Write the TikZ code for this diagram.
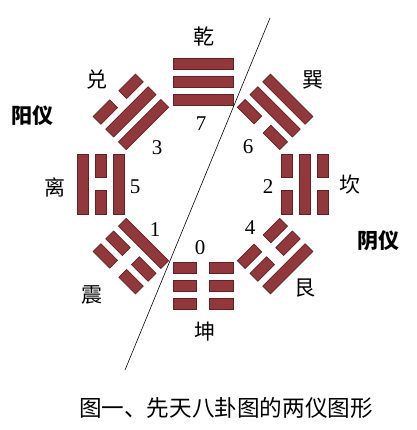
\documentclass[tikz,border=0pt]{standalone}
\usepackage{fontspec}
\setmainfont{Liberation Serif}
\newfontfamily\cjk{Noto Sans CJK SC}
\definecolor{barc}{RGB}{146,56,58}
\definecolor{barb}{RGB}{100,32,34}
\tikzset{
  yao/.style={fill=barc, draw=barb, line width=0.7pt},
  gualabel/.style={font=\cjk\fontsize{21}{21}\selectfont, inner sep=0pt},
  numlabel/.style={font=\fontsize{21}{21}\selectfont, inner sep=0pt},
  yilabel/.style={font=\cjk\bfseries\fontsize{21}{21}\selectfont, inner sep=0pt},
  caplabel/.style={font=\cjk\fontsize{22.6}{23}\selectfont, inner sep=0pt},
  divider/.style={draw=black, line width=0.6pt}
}
\newcommand\solidyao[1]{\path[yao] (-30,#1-5.5) rectangle (30,#1+5.5);}
\newcommand\brokenyao[1]{\path[yao] (-30,#1-5.5) rectangle (-6.5,#1+5.5);
  \path[yao] (6.5,#1-5.5) rectangle (30,#1+5.5);}
\newcommand\oneyao[2]{\ifnum#2=1 \solidyao{#1}\else\brokenyao{#1}\fi}
% #1 angle, #2 #3 #4 lines from inner (bottom) to outer (top); 1 solid, 0 broken
\newcommand\trigram[4]{%
  \begin{scope}[shift={(203,-184)}, rotate=#1-90]
    \oneyao{84}{#2}\oneyao{102}{#3}\oneyao{120}{#4}
  \end{scope}}
\begin{document}
\begin{tikzpicture}[x=1pt,y=1pt]
\useasboundingbox (0,0) rectangle (416,-430);
\fill[white] (0,0) rectangle (416,-430);
% trigrams
\trigram{90}{1}{1}{1}   % qian
\trigram{45}{0}{1}{1}   % xun
\trigram{0}{0}{1}{0}    % kan
\trigram{-45}{0}{0}{1}  % gen
\trigram{-90}{0}{0}{0}  % kun
\trigram{-135}{1}{0}{0} % zhen
\trigram{180}{1}{0}{1}  % li
\trigram{135}{1}{1}{0}  % dui
% divider line
\coordinate (ltop) at (270,-18);
\coordinate (lbot) at (125,-370);
\draw[divider] (ltop) -- (lbot);
% names
\node[gualabel] (qian) at (204,-37) {乾};
\node[gualabel] (xun) at (313,-80) {巽};
\node[gualabel] (dui) at (97,-80) {兑};
\node[gualabel] (li) at (55,-187) {离};
\node[gualabel] (kan) at (350,-185) {坎};
\node[gualabel] (zhen) at (92,-295) {震};
\node[gualabel] (kun) at (205,-332) {坤};
\node[gualabel] (gen) at (305,-288) {艮};
% numbers
\node[numlabel] (n7) at (201,-124) {7};
\node[numlabel] (n6) at (248,-147) {6};
\node[numlabel] (n3) at (157,-148) {3};
\node[numlabel] (n5) at (135,-187) {5};
\node[numlabel] (n2) at (268,-187) {2};
\node[numlabel] (n1) at (155,-230) {1};
\node[numlabel] (n0) at (200,-248) {0};
\node[numlabel] (n4) at (250,-228) {4};
% yi
\node[yilabel] (yang) at (32,-116) {阳仪};
\node[yilabel] (yin) at (378,-241) {阴仪};
% caption
\node[caplabel] (cap) at (226,-408) {图一、先天八卦图的两仪图形};
\end{tikzpicture}
\end{document}
